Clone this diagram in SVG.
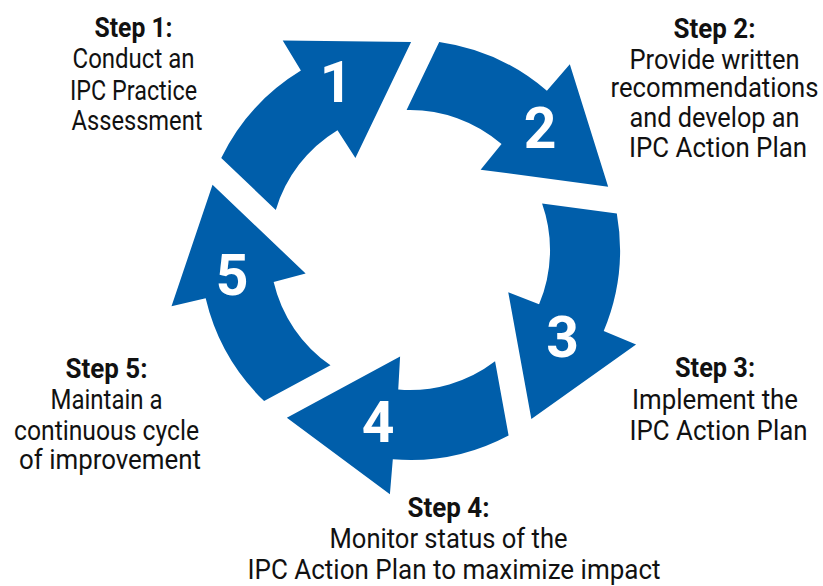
<svg xmlns="http://www.w3.org/2000/svg" xmlns:xlink="http://www.w3.org/1999/xlink" width="823" height="586" viewBox="0 0 823 586">
  <defs>
    <!-- One curved ring segment with its head; the cycle rotates it by 72° about (410,250) -->
    <path id="arrow" d="M221.25,157.94 A210,210 0 0 1 300.9,70.6 L282.7,40.6 L411.1,42 L355.4,158 L337.5,130.2 A140,140 0 0 0 275.8,210 Z"/>
  </defs>
  <style>
    .seg { fill: #005eaa; }
    .num { font-family: Roboto, "Liberation Sans", sans-serif; font-weight: bold; font-size: 57px; fill: #ffffff; text-anchor: middle; }
    .lbl { font-family: Roboto, "Liberation Sans", sans-serif; font-size: 28px; fill: #111111; text-anchor: middle; }
    .lbl .b { font-weight: bold; }
  </style>
  <rect width="823" height="586" fill="#ffffff"/>

  <g id="step1">
    <use xlink:href="#arrow" href="#arrow" class="seg"/>
    <text class="num" x="336" y="101.5">1</text>
    <text class="lbl">
      <tspan class="b" x="137" y="37" textLength="78" lengthAdjust="spacingAndGlyphs">Step 1:</tspan>
      <tspan x="137" y="68" textLength="122" lengthAdjust="spacingAndGlyphs">Conduct an</tspan>
      <tspan x="137" y="99.5" textLength="127" lengthAdjust="spacingAndGlyphs">IPC Practice</tspan>
      <tspan x="137" y="130" textLength="131" lengthAdjust="spacingAndGlyphs">Assessment</tspan>
    </text>
  </g>

  <g id="step2">
    <use xlink:href="#arrow" href="#arrow" class="seg" transform="rotate(72 410 250)"/>
    <text class="num" x="540" y="148.3">2</text>
    <text class="lbl">
      <tspan class="b" x="718" y="38" textLength="82" lengthAdjust="spacingAndGlyphs">Step 2:</tspan>
      <tspan x="718" y="68.5" textLength="170" lengthAdjust="spacingAndGlyphs">Provide written</tspan>
      <tspan x="718" y="97" textLength="208" lengthAdjust="spacingAndGlyphs">recommendations</tspan>
      <tspan x="718" y="126.5" textLength="170" lengthAdjust="spacingAndGlyphs">and develop an</tspan>
      <tspan x="718" y="157" textLength="178" lengthAdjust="spacingAndGlyphs">IPC Action Plan</tspan>
    </text>
  </g>

  <g id="step3">
    <use xlink:href="#arrow" href="#arrow" class="seg" transform="rotate(144 410 250)"/>
    <text class="num" x="562.5" y="356.7">3</text>
    <text class="lbl">
      <tspan class="b" x="718.5" y="377" textLength="80" lengthAdjust="spacingAndGlyphs">Step 3:</tspan>
      <tspan x="718.5" y="409" textLength="166" lengthAdjust="spacingAndGlyphs">Implement the</tspan>
      <tspan x="718.5" y="440" textLength="178" lengthAdjust="spacingAndGlyphs">IPC Action Plan</tspan>
    </text>
  </g>

  <g id="step4">
    <use xlink:href="#arrow" href="#arrow" class="seg" transform="rotate(216 410 250)"/>
    <text class="num" x="378" y="441.7">4</text>
    <text class="lbl">
      <tspan class="b" x="452" y="517" textLength="82" lengthAdjust="spacingAndGlyphs">Step 4:</tspan>
      <tspan x="452" y="548" textLength="238" lengthAdjust="spacingAndGlyphs">Monitor status of the</tspan>
      <tspan x="454" y="578.5" textLength="413" lengthAdjust="spacingAndGlyphs">IPC Action Plan to maximize impact</tspan>
    </text>
  </g>

  <g id="step5">
    <use xlink:href="#arrow" href="#arrow" class="seg" transform="rotate(288 410 250)"/>
    <text class="num" x="232" y="295">5</text>
    <text class="lbl">
      <tspan class="b" x="110" y="378" textLength="82" lengthAdjust="spacingAndGlyphs">Step 5:</tspan>
      <tspan x="110" y="408.5" textLength="112" lengthAdjust="spacingAndGlyphs">Maintain a</tspan>
      <tspan x="110" y="440" textLength="185" lengthAdjust="spacingAndGlyphs">continuous cycle</tspan>
      <tspan x="110" y="468.5" textLength="182" lengthAdjust="spacingAndGlyphs">of improvement</tspan>
    </text>
  </g>

  <g id="connectors"/>
</svg>
